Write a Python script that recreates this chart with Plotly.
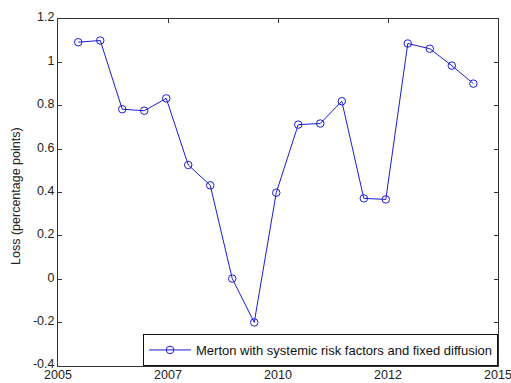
import plotly.graph_objects as go

# Data
years = [2005.46, 2005.96, 2006.46, 2006.96, 2007.46, 2007.96, 2008.46, 2008.96,
         2009.46, 2009.96, 2010.46, 2010.96, 2011.45, 2011.95, 2012.45, 2012.95,
         2013.45, 2013.95, 2014.44]
loss = [1.093, 1.101, 0.784, 0.777, 0.834, 0.527, 0.433, 0.003,
        -0.199, 0.399, 0.713, 0.718, 0.821, 0.373, 0.368, 1.087,
        1.063, 0.985, 0.902]
series_name = "Merton with systemic risk factors and fixed diffusion"
x_tickvals = [2005, 2007.5, 2010, 2012.5, 2015]
x_ticktext = ["2005", "2007", "2010", "2012", "2015"]
y_tickvals = [-0.4, -0.2, 0, 0.2, 0.4, 0.6, 0.8, 1.0, 1.2]
y_ticktext = ["-0.4", "-0.2", "0", "0.2", "0.4", "0.6", "0.8", "1", "1.2"]

blue = "rgb(28,28,215)"
fam = "Liberation Sans, Arial, sans-serif"
fig = go.Figure()
fig.add_trace(go.Scatter(
    x=years, y=loss, mode="lines+markers", name=series_name,
    line=dict(color=blue, width=1),
    marker=dict(symbol="circle-open", size=7.5, color=blue, line=dict(width=1, color=blue)),
))

axis_common = dict(
    showline=True, linecolor="#333", linewidth=1, mirror="ticks",
    ticks="inside", ticklen=4, tickcolor="#333", showgrid=False, zeroline=False,
    tickfont=dict(family=fam, size=12.5, color="#222"), ticklabeloverflow="allow",
)
fig.update_layout(
    width=511, height=383,
    margin=dict(l=58, r=13, t=19, b=17, autoexpand=False),
    paper_bgcolor="white", plot_bgcolor="white",
    font=dict(family=fam, size=12.5, color="#222"),
    xaxis=dict(range=[2005, 2015], tickvals=x_tickvals, ticktext=x_ticktext,
               ticklabelstandoff=-3, **axis_common),
    yaxis=dict(range=[-0.4, 1.2], tickvals=y_tickvals, ticktext=y_ticktext,
               ticklabelshift=-2, **axis_common),
    showlegend=True,
    legend=dict(x=1, y=0, xanchor="right", yanchor="bottom",
                bordercolor="#111", borderwidth=1, bgcolor="white",
                font=dict(family=fam, size=13, color="#111"), itemwidth=42,
                tracegroupgap=0),
    annotations=[dict(text="Loss (percentage points)", xref="paper", yref="paper",
                      x=(16 - 58) / 440, y=0.49, xanchor="center", yanchor="middle",
                      textangle=-90, showarrow=False, font=dict(family=fam, size=12.5, color="#222"))],
)
fig.write_html("out.html")
